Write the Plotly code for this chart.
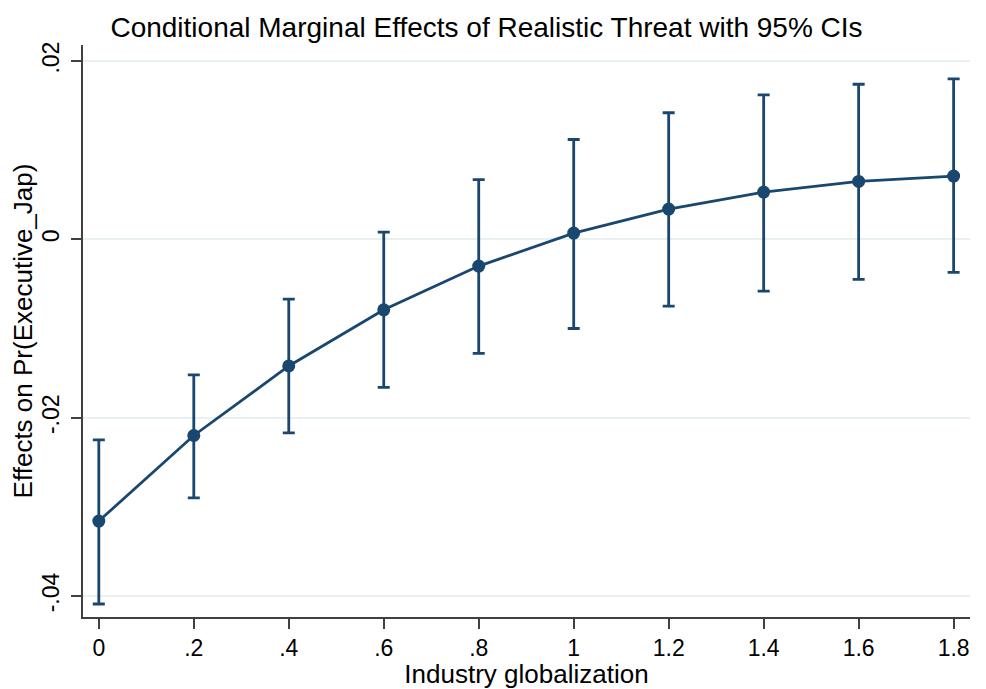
import plotly.graph_objects as go

x_vals = [0, 0.2, 0.4, 0.6, 0.8, 1.0, 1.2, 1.4, 1.6, 1.8]
estimates = [-0.0316, -0.0220, -0.0142, -0.0079, -0.0030, 0.0007, 0.0034, 0.0053, 0.0065, 0.0071]
upper = [-0.0225, -0.0152, -0.0067, 0.0008, 0.0067, 0.0112, 0.0142, 0.0162, 0.0174, 0.0180]
lower = [-0.0409, -0.0290, -0.0217, -0.0166, -0.0128, -0.0100, -0.0075, -0.0058, -0.0045, -0.0037]

x_ticks = [0, 0.2, 0.4, 0.6, 0.8, 1.0, 1.2, 1.4, 1.6, 1.8]
x_labels = ["0", ".2", ".4", ".6", ".8", "1", "1.2", "1.4", "1.6", "1.8"]
y_ticks = [-0.04, -0.02, 0, 0.02]
y_labels = ["-.04", "-.02", "0", ".02"]

navy = "#1a476f"
font_family = "Liberation Sans, Arial, sans-serif"

# The page body has an 8px default margin, so the figure is sized/offset to compensate.
fig = go.Figure()
fig.add_trace(go.Scatter(
    x=x_vals, y=estimates, mode="lines+markers",
    line=dict(color=navy, width=2.8),
    marker=dict(color=navy, size=13),
    error_y=dict(
        type="data", symmetric=False,
        array=[u - e for u, e in zip(upper, estimates)],
        arrayminus=[e - l for e, l in zip(estimates, lower)],
        color=navy, thickness=2.8, width=6,
    ),
    showlegend=False,
))

fig.update_layout(
    width=978, height=681,
    margin=dict(l=75, r=16, t=37, b=72),
    paper_bgcolor="white", plot_bgcolor="white",
    font=dict(family=font_family, color="black", size=23),
    title=dict(text="Conditional Marginal Effects of Realistic Threat with 95% CIs",
               x=0.4893, xanchor="center", y=0.972, yanchor="middle",
               font=dict(size=28, family=font_family, color="black")),
    xaxis=dict(
        range=[-0.0333, 1.8345], tickvals=x_ticks, ticktext=x_labels,
        automargin=False,
        showgrid=False, zeroline=False,
        showline=True, linecolor="#404040", linewidth=1.5,
        ticks="outside", ticklen=10, tickcolor="#404040", tickwidth=1.5,
        tickfont=dict(size=23),
        title=dict(text="Industry globalization", font=dict(size=26), standoff=0),
    ),
    yaxis=dict(
        range=[-0.04236, 0.0218], tickvals=y_ticks, ticktext=y_labels,
        tickangle=-90, automargin=False, ticklabelstandoff=3,
        showgrid=True, gridcolor="#e8f0f2", gridwidth=1.5,
        zeroline=False,
        showline=True, linecolor="#404040", linewidth=1.5,
        ticks="outside", ticklen=10, tickcolor="#404040", tickwidth=1.5,
        tickfont=dict(size=23),
        title=dict(text="Effects on Pr(Executive_Jap)", font=dict(size=26), standoff=4),
    ),
)

fig.write_html("out.html")
